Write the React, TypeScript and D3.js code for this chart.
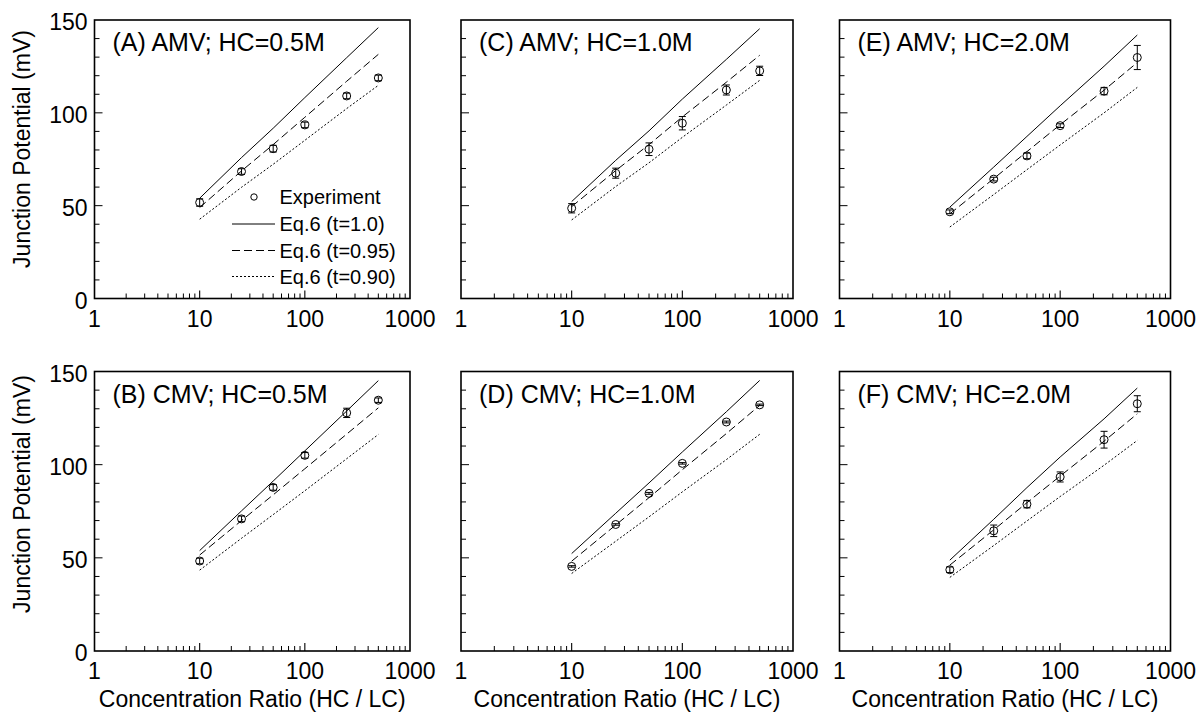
import React from "react";
import * as d3 from "d3";

// Concentration ratios HC/LC at which measurements and Eq.6 curves are evaluated
const RATIOS = [10, 25, 50, 100, 250, 500];

// (A) AMV; HC=0.5M
const A_EXP = [51.7, 68.4, 80.7, 93.5, 109.1, 118.8];
const A_ERR = [2.0, 1.5, 1.8, 1.5, 1.5, 1.5];
const A_T100 = [54.0, 75.9, 91.7, 108.2, 129.7, 145.9];
const A_T095 = [49.0, 68.7, 82.9, 97.6, 117.0, 131.5];
const A_T090 = [42.7, 59.9, 72.3, 85.2, 102.3, 114.8];

// (C) AMV; HC=1.0M
const C_EXP = [48.6, 67.5, 80.4, 94.4, 112.3, 122.6];
const C_ERR = [2.5, 2.7, 3.4, 3.6, 2.7, 2.5];
const C_T100 = [52.2, 74.4, 90.3, 107.4, 128.8, 145.3];
const C_T095 = [49.5, 68.9, 82.9, 97.8, 116.5, 131.0];
const C_T090 = [42.3, 60.3, 73.1, 86.8, 104.2, 117.5];

// (E) AMV; HC=2.0M
const E_EXP = [46.7, 64.3, 76.8, 93.1, 111.7, 129.8];
const E_ERR = [1.0, 1.0, 1.5, 1.0, 2.0, 6.5];
const E_T100 = [49.2, 70.8, 87.3, 103.8, 125.1, 141.9];
const E_T095 = [45.6, 64.6, 79.1, 93.6, 112.2, 127.1];
const E_T090 = [38.5, 56.0, 69.4, 82.7, 100.0, 113.7];

// (B) CMV; HC=0.5M
const B_EXP = [48.3, 70.9, 87.8, 105.0, 127.8, 134.6];
const B_ERR = [1.5, 1.5, 1.5, 1.5, 2.5, 1.2];
const B_T100 = [53.9, 75.2, 91.2, 107.4, 128.8, 145.1];
const B_T095 = [51.5, 70.0, 83.8, 97.8, 116.4, 130.5];
const B_T090 = [43.4, 60.5, 73.2, 86.0, 103.2, 116.2];

// (D) CMV; HC=1.0M
const D_EXP = [45.4, 67.9, 84.6, 100.7, 122.9, 132.1];
const D_ERR = [0.4, 0.4, 0.5, 0.4, 0.5, 0.4];
const D_T100 = [52.3, 73.9, 90.2, 106.8, 128.4, 145.2];
const D_T095 = [48.2, 67.6, 82.3, 97.3, 116.7, 131.8];
const D_T090 = [41.6, 58.9, 72.0, 85.4, 102.7, 116.3];

// (F) CMV; HC=2.0M
const F_EXP = [43.6, 64.5, 78.8, 93.4, 113.4, 132.7];
const F_ERR = [1.5, 3.1, 2.0, 2.7, 4.5, 4.3];
const F_T100 = [48.75, 70.7, 87.7, 104.1, 124.6, 141.1];
const F_T095 = [46.1, 65.0, 79.6, 93.9, 112.6, 127.3];
const F_T090 = [39.5, 56.6, 69.8, 82.9, 99.7, 113.0];

const X_TICK_LABELS = ["1", "10", "100", "1000"];
const Y_TICK_LABELS = ["0", "50", "100", "150"];
const LEGEND_LABELS = ["Experiment", "Eq.6 (t=1.0)", "Eq.6 (t=0.95)", "Eq.6 (t=0.90)"];

const FONT = "'Liberation Sans', Arial, Helvetica, sans-serif";

const DASH_095 = "8,4";
const DASH_090 = "2,2";

type PanelSpec = {
  title: string;
  exp: number[];
  err: number[];
  t100: number[];
  t095: number[];
  t090: number[];
  x0: number;
  x1: number;
  y0: number;
  y1: number;
  yTitleY: number;
  yLabels: boolean;
  xTitle: boolean;
  legend: boolean;
};

const ROW1 = { y0: 20, y1: 298.5, yTitleY: 149 };
const ROW2 = { y0: 371.5, y1: 651, yTitleY: 494 };
const COL1 = { x0: 94.5, x1: 410 };
const COL2 = { x0: 461, x1: 793 };
const COL3 = { x0: 839.5, x1: 1170.5 };

const PANELS: PanelSpec[] = [
  { title: "(A) AMV; HC=0.5M", exp: A_EXP, err: A_ERR, t100: A_T100, t095: A_T095, t090: A_T090, ...COL1, ...ROW1, yLabels: true, xTitle: false, legend: true },
  { title: "(C) AMV; HC=1.0M", exp: C_EXP, err: C_ERR, t100: C_T100, t095: C_T095, t090: C_T090, ...COL2, ...ROW1, yLabels: false, xTitle: false, legend: false },
  { title: "(E) AMV; HC=2.0M", exp: E_EXP, err: E_ERR, t100: E_T100, t095: E_T095, t090: E_T090, ...COL3, ...ROW1, yLabels: false, xTitle: false, legend: false },
  { title: "(B) CMV; HC=0.5M", exp: B_EXP, err: B_ERR, t100: B_T100, t095: B_T095, t090: B_T090, ...COL1, ...ROW2, yLabels: true, xTitle: true, legend: false },
  { title: "(D) CMV; HC=1.0M", exp: D_EXP, err: D_ERR, t100: D_T100, t095: D_T095, t090: D_T090, ...COL2, ...ROW2, yLabels: false, xTitle: true, legend: false },
  { title: "(F) CMV; HC=2.0M", exp: F_EXP, err: F_ERR, t100: F_T100, t095: F_T095, t090: F_T090, ...COL3, ...ROW2, yLabels: false, xTitle: true, legend: false },
];

function Panel({ p }: { p: PanelSpec }) {
  const x = d3.scaleLog().domain([1, 1000]).range([p.x0, p.x1]);
  const y = d3.scaleLinear().domain([0, 150]).range([p.y1, p.y0]);

  const line = d3
    .line<number>()
    .x((_, i) => x(RATIOS[i]))
    .y((v) => y(v));

  const xMinor: number[] = [];
  [1, 10, 100].forEach((dec) => {
    for (let k = 2; k <= 9; k++) xMinor.push(k * dec);
  });
  const xMajor = [10, 100];
  const yTicks = d3.range(10, 150, 10);
  const xLabelVals = [1, 10, 100, 1000];
  const yLabelVals = [0, 50, 100, 150];

  const r = 4;
  const cap = 3.5;

  return (
    <g>
      {/* ticks */}
      {xMinor.map((v) => (
        <line key={"xm" + v} x1={x(v)} x2={x(v)} y1={p.y1} y2={p.y1 - 5} stroke="#000" strokeWidth={1} />
      ))}
      {xMajor.map((v) => (
        <line key={"xM" + v} x1={x(v)} x2={x(v)} y1={p.y1} y2={p.y1 - 8} stroke="#000" strokeWidth={1.1} />
      ))}
      {yTicks.map((v) => (
        <line
          key={"yt" + v}
          x1={p.x0}
          x2={p.x0 + (v % 50 === 0 ? 8 : 5)}
          y1={y(v)}
          y2={y(v)}
          stroke="#000"
          strokeWidth={1}
        />
      ))}

      {/* Eq.6 curves */}
      <path d={line(p.t100) || ""} fill="none" stroke="#000" strokeWidth={1} />
      <path d={line(p.t095) || ""} fill="none" stroke="#000" strokeWidth={1} strokeDasharray={DASH_095} />
      <path d={line(p.t090) || ""} fill="none" stroke="#000" strokeWidth={1} strokeDasharray={DASH_090} />

      {/* experiment with error bars */}
      {p.exp.map((v, i) => {
        const cx = x(RATIOS[i]);
        const top = y(v + p.err[i]);
        const bot = y(v - p.err[i]);
        return (
          <g key={"e" + i}>
            <line x1={cx} x2={cx} y1={top} y2={bot} stroke="#000" strokeWidth={1} />
            <line x1={cx - cap} x2={cx + cap} y1={top} y2={top} stroke="#000" strokeWidth={1} />
            <line x1={cx - cap} x2={cx + cap} y1={bot} y2={bot} stroke="#000" strokeWidth={1} />
            <circle cx={cx} cy={y(v)} r={r} fill="none" stroke="#000" strokeWidth={1} />
          </g>
        );
      })}

      {/* frame */}
      <rect x={p.x0} y={p.y0} width={p.x1 - p.x0} height={p.y1 - p.y0} fill="none" stroke="#000" strokeWidth={1.6} />

      {/* tick labels */}
      {xLabelVals.map((v, i) => (
        <text key={"xl" + v} x={x(v)} y={p.y1 + 28} textAnchor="middle" fontSize={23} fontFamily={FONT} fill="#000">
          {X_TICK_LABELS[i]}
        </text>
      ))}
      {p.yLabels &&
        yLabelVals.map((v, i) => (
          <text key={"yl" + v} x={p.x0 - 7} y={y(v) + 10} textAnchor="end" fontSize={23} fontFamily={FONT} fill="#000">
            {Y_TICK_LABELS[i]}
          </text>
        ))}

      {/* panel title */}
      <text x={p.x0 + 18} y={p.y0 + 31} fontSize={25} fontFamily={FONT} fill="#000">
        {p.title}
      </text>

      {p.xTitle && (
        <text x={(p.x0 + p.x1) / 2} y={p.y1 + 56} textAnchor="middle" fontSize={23} fontFamily={FONT} fill="#000">
          Concentration Ratio (HC / LC)
        </text>
      )}
      {p.yLabels && (
        <text
          transform={`translate(29.5, ${p.yTitleY}) rotate(-90)`}
          textAnchor="middle"
          fontSize={23}
          fontFamily={FONT}
          fill="#000"
        >
          Junction Potential (mV)
        </text>
      )}

      {p.legend && <Legend />}
    </g>
  );
}

function Legend() {
  const lx0 = 232;
  const lx1 = 275;
  const tx = 279.5;
  const rows = [197, 224, 250.5, 276.5];
  const dashes = [null, undefined, DASH_095, DASH_090];
  return (
    <g>
      {rows.map((ry, i) => (
        <g key={"lg" + i}>
          {i === 0 ? (
            <circle cx={254} cy={ry} r={3.2} fill="none" stroke="#000" strokeWidth={1} />
          ) : (
            <line x1={lx0} x2={lx1} y1={ry} y2={ry} stroke="#000" strokeWidth={1} strokeDasharray={dashes[i] || undefined} />
          )}
          <text x={tx} y={ry + 7} fontSize={20} fontFamily={FONT} fill="#000">
            {LEGEND_LABELS[i]}
          </text>
        </g>
      ))}
    </g>
  );
}

export default function App() {
  return (
    <svg
      width={1198}
      height={713}
      viewBox="0 0 1198 713"
      style={{ position: "absolute", left: 0, top: 0, background: "#fff" }}
    >
      <rect x={0} y={0} width={1198} height={713} fill="#fff" />
      {PANELS.map((p, i) => (
        <Panel key={i} p={p} />
      ))}
    </svg>
  );
}
